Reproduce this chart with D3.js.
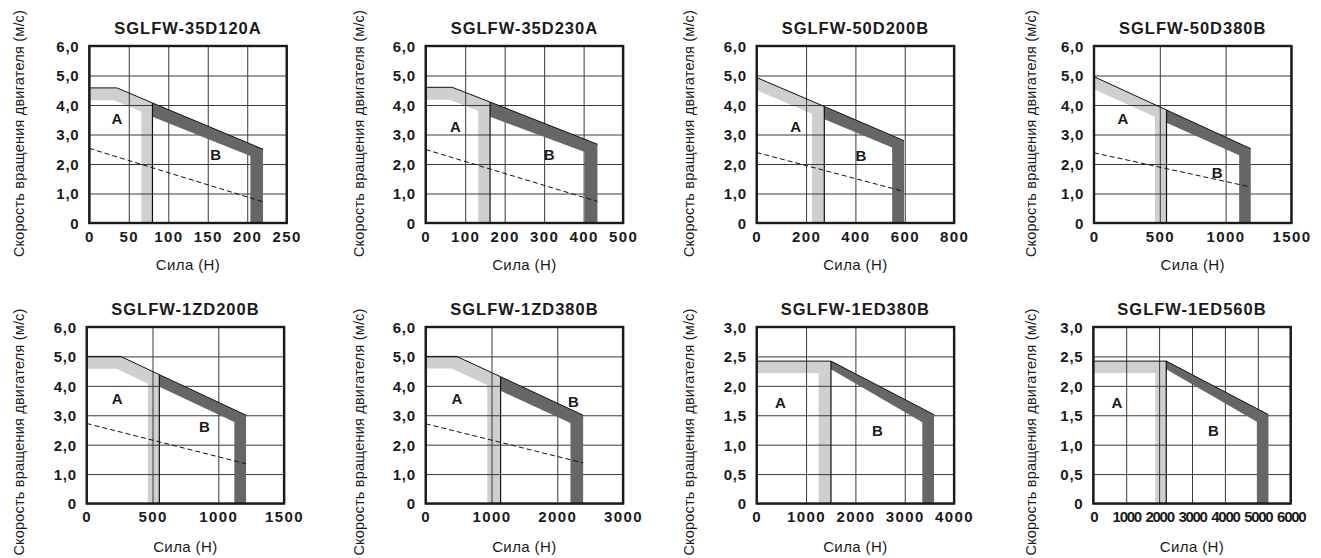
<!DOCTYPE html>
<html><head><meta charset="utf-8">
<script src="https://cdn.jsdelivr.net/npm/d3@7"></script>
<style>body{margin:0;background:#fff}svg{display:block}</style>
</head><body>
<svg id="c" width="1321" height="558"></svg>
<script>
// ---------- data ----------
const titles = ["SGLFW-35D120A","SGLFW-35D230A","SGLFW-50D200B","SGLFW-50D380B",
                "SGLFW-1ZD200B","SGLFW-1ZD380B","SGLFW-1ED380B","SGLFW-1ED560B"];
const xMax = [250, 500, 800, 1500, 1500, 3000, 4000, 6000];
const yMax = [6, 6, 6, 6, 6, 6, 3, 3];
const xTickValues = [
  [0,50,100,150,200,250],[0,100,200,300,400,500],[0,200,400,600,800],[0,500,1000,1500],
  [0,500,1000,1500],[0,1000,2000,3000],[0,1000,2000,3000,4000],[0,1000,2000,3000,4000,5000,6000]];
const yTicks6 = [0,1,2,3,4,5,6];
const yTicks3 = [0,0.5,1,1.5,2,2.5,3];
const xAxisTitle = "Сила (Н)";
const yAxisTitle = "Скорость вращения двигателя (м/с)";

// zone A (continuous) band: outer edge and inner edge
const aOuter = [
  [[0,4.58],[35,4.58],[80,4.07],[80,0]],
  [[0,4.6],[67,4.6],[163,4.1],[163,0]],
  [[0,4.93],[274,3.95],[274,0]],
  [[0,4.96],[551,3.83],[551,0]],
  [[0,5.0],[258,5.0],[552,4.38],[552,0]],
  [[0,5.0],[470,5.0],[1138,4.31],[1138,0]],
  [[0,2.42],[1505,2.42],[1505,0]],
  [[0,2.42],[2218,2.42],[2218,0]]];
const aInner = [
  [[0,4.16],[31,4.16],[66,3.78],[66,0]],
  [[0,4.18],[61,4.18],[133,3.8],[133,0]],
  [[0,4.5],[224,3.7],[224,0]],
  [[0,4.53],[463,3.6],[463,0]],
  [[0,4.58],[228,4.58],[464,4.08],[464,0]],
  [[0,4.59],[395,4.59],[936,4.03],[936,0]],
  [[0,2.22],[1254,2.22],[1254,0]],
  [[0,2.22],[1886,2.22],[1886,0]]];
// zone B (intermittent) band
const bOuter = [
  [[80,4.07],[220,2.5],[220,0]],
  [[163,4.1],[435,2.67],[435,0]],
  [[274,3.95],[597,2.79],[597,0]],
  [[551,3.83],[1191,2.52],[1191,0]],
  [[552,4.38],[1211,3.0],[1211,0]],
  [[1138,4.31],[2393,3.0],[2393,0]],
  [[1505,2.42],[3593,1.51],[3593,0]],
  [[2218,2.42],[5324,1.51],[5324,0]]];
const bInner = [
  [[80,3.6],[204,2.27],[204,0]],
  [[163,3.6],[403,2.41],[403,0]],
  [[274,3.52],[549,2.56],[549,0]],
  [[551,3.4],[1103,2.3],[1103,0]],
  [[552,3.97],[1122,2.77],[1122,0]],
  [[1138,3.83],[2200,2.74],[2200,0]],
  [[1505,2.28],[3356,1.38],[3356,0]],
  [[2218,2.28],[4971,1.39],[4971,0]]];
// dashed line (null = none)
const dashed = [
  [[0,2.53],[220,0.72]],
  [[0,2.49],[435,0.73]],
  [[0,2.39],[597,1.07]],
  [[0,2.38],[1191,1.22]],
  [[0,2.72],[1211,1.35]],
  [[0,2.71],[2393,1.38]],
  null, null];
const labelA = [[35,3.55],[75,3.25],[158,3.26],[220,3.54],[231,3.56],[476,3.55],[481,1.72],[716,1.72]];
const labelB = [[160,2.3],[313,2.32],[422,2.28],[936,1.7],[894,2.61],[2246,3.47],[2447,1.24],[3650,1.24]];

// ---------- layout ----------
const plotLeft = [89.3, 425.7, 756.7, 1094, 86.7, 425.7, 756.7, 1093.3];
const plotW = 197.4;
const rowTop = [46, 327], rowBottom = [223, 503.5];
const xTitleBase = [270, 552];
const yTitleCenter = [133.5, 432];
const yTitleOffset = [-70, -67, -68, -63, -68, -67, -68, -62];
const FONT = "'Liberation Sans', Arial, Helvetica, sans-serif";

const svg = d3.select("#c");
const fmtY = d => d === 0 ? "0" : d3.format(".1f")(d).replace(".", ",");

titles.forEach((title, i) => {
  const row = i < 4 ? 0 : 1;
  const x0 = plotLeft[i], x1 = x0 + plotW, y0 = rowTop[row], y1 = rowBottom[row];
  const x = d3.scaleLinear().domain([0, xMax[i]]).range([x0, x1]);
  const y = d3.scaleLinear().domain([0, yMax[i]]).range([y1, y0]);
  const yTicks = yMax[i] === 6 ? yTicks6 : yTicks3;
  const g = svg.append("g");

  const poly = (outer, inner) => {
    const pts = outer.concat(inner.slice().reverse());
    return d3.line().x(d => x(d[0])).y(d => y(d[1]))(pts) + "Z";
  };
  const line = d3.line().x(d => x(d[0])).y(d => y(d[1]));

  // light band (zone A)
  g.append("path").attr("d", poly(aOuter[i], aInner[i])).attr("fill", "#cfcfcf");

  // grid
  g.append("g").attr("transform", `translate(0,${y1})`)
    .call(d3.axisBottom(x).tickValues(xTickValues[i]).tickSize(-(y1 - y0)).tickFormat(""))
    .call(s => s.select(".domain").remove())
    .call(s => s.selectAll("line").attr("stroke", "#3a3a3a").attr("stroke-width", 1));
  g.append("g").attr("transform", `translate(${x0},0)`)
    .call(d3.axisLeft(y).tickValues(yTicks).tickSize(-plotW).tickFormat(""))
    .call(s => s.select(".domain").remove())
    .call(s => s.selectAll("line").attr("stroke", "#3a3a3a").attr("stroke-width", 1));

  // dark band (zone B)
  g.append("path").attr("d", poly(bOuter[i], bInner[i])).attr("fill", "#666666");

  // envelope line + boundary
  const env = aOuter[i].slice(0, -1).concat(bOuter[i].slice(1, -1));
  g.append("path").attr("d", line(env)).attr("fill", "none").attr("stroke", "#111").attr("stroke-width", 1);
  const ab = aOuter[i];
  g.append("path").attr("d", line(ab.slice(-2))).attr("fill", "none").attr("stroke", "#111").attr("stroke-width", 1.2);

  // dashed
  if (dashed[i]) {
    g.append("path").attr("d", line(dashed[i])).attr("fill", "none")
      .attr("stroke", "#111").attr("stroke-width", 1).attr("stroke-dasharray", "5,3");
  }

  // frame
  g.append("rect").attr("x", x0).attr("y", y0).attr("width", plotW).attr("height", y1 - y0)
    .attr("fill", "none").attr("stroke", "#1a1a1a").attr("stroke-width", 2.4);

  // zone labels
  [["A", labelA[i]], ["B", labelB[i]]].forEach(([t, p]) => {
    g.append("text").attr("x", x(p[0])).attr("y", y(p[1]) + 5.3)
      .attr("text-anchor", "middle").attr("font-family", FONT).attr("font-weight", "bold")
      .attr("font-size", 15).attr("fill", "#1a1a1a").text(t);
  });

  // x tick labels
  const xl = g.append("g").attr("transform", `translate(0,${y1})`)
    .call(d3.axisBottom(x).tickValues(xTickValues[i]).tickSize(0).tickPadding(0).tickFormat(d3.format("d")));
  xl.select(".domain").remove();
  xl.selectAll("text").attr("y", 18.5).attr("dy", null)
    .attr("font-family", FONT).attr("font-weight", "bold").attr("font-size", 15)
    .attr("fill", "#1a1a1a").attr("letter-spacing", i === 7 ? -1.3 : 1.4);

  // y tick labels
  const yl = g.append("g").attr("transform", `translate(${x0},0)`)
    .call(d3.axisLeft(y).tickValues(yTicks).tickSize(0).tickPadding(0).tickFormat(fmtY));
  yl.select(".domain").remove();
  yl.selectAll("text").attr("x", -10).attr("dy", null).attr("y", 5.4)
    .attr("font-family", FONT).attr("font-weight", "bold").attr("font-size", 15)
    .attr("fill", "#1a1a1a").attr("letter-spacing", 0.7);

  // title
  g.append("text").attr("x", (x0 + x1) / 2).attr("y", y0 - 12)
    .attr("text-anchor", "middle").attr("font-family", FONT).attr("font-weight", "bold")
    .attr("font-size", 16.5).attr("letter-spacing", 1).attr("fill", "#1a1a1a").text(title);

  // axis titles
  g.append("text").attr("x", (x0 + x1) / 2).attr("y", xTitleBase[row])
    .attr("text-anchor", "middle").attr("font-family", FONT)
    .attr("font-size", 15).attr("letter-spacing", 0.4).attr("fill", "#1a1a1a").text(xAxisTitle);
  g.append("text")
    .attr("transform", `translate(${x0 + yTitleOffset[i] + 5},${yTitleCenter[row]}) rotate(-90)`)
    .attr("text-anchor", "middle").attr("font-family", FONT)
    .attr("font-size", 14.5).attr("letter-spacing", 0.2).attr("fill", "#1a1a1a").text(yAxisTitle);
});
</script>
</body></html>
